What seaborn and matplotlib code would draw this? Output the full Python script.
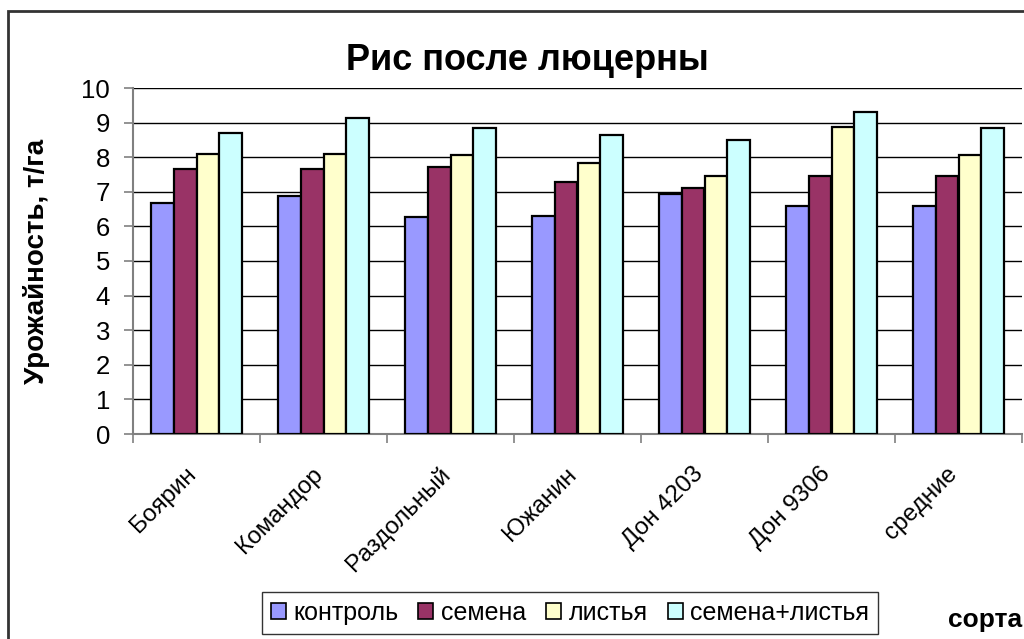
import matplotlib
matplotlib.use("Agg")
import matplotlib.pyplot as plt
import matplotlib.transforms as mtransforms
from matplotlib.patches import Rectangle
from matplotlib.ticker import FixedLocator
import numpy as np
import pandas as pd
import seaborn as sns

# ── Data ─────────────────────────────────────────────────────────
sorts = ["Боярин", "Командор", "Раздольный", "Южанин", "Дон 4203", "Дон 9306", "средние"]
treatments = ["контроль", "семена", "листья", "семена+листья"]
kontrol = [6.68, 6.88, 6.27, 6.30, 6.94, 6.59, 6.59]
semena = [7.66, 7.66, 7.72, 7.27, 7.10, 7.47, 7.47]
listya = [8.10, 8.10, 8.05, 7.82, 7.47, 8.88, 8.05]
semena_listya = [8.70, 9.13, 8.84, 8.64, 8.49, 9.31, 8.84]
colors = ["#9999FF", "#993366", "#FFFFCC", "#CCFFFF"]

df = pd.DataFrame({
    "сорт": sorts * 4,
    "вариант": np.repeat(treatments, len(sorts)),
    "урожай": kontrol + semena + listya + semena_listya,
})

sns.set_style("white")
plt.rcParams["font.family"] = ["Liberation Sans", "DejaVu Sans"]
plt.rcParams["text.color"] = "black"
plt.rcParams["axes.labelcolor"] = "black"

fig = plt.figure(figsize=(10.24, 6.39), dpi=100)
ax = fig.add_axes([133 / 1024, 1 - 434 / 639, (1022 - 133) / 1024, (434 - 88) / 639])

sns.barplot(
    data=df, x="сорт", y="урожай", hue="вариант",
    palette=colors, saturation=1, width=0.724, gap=0,
    edgecolor="black", linewidth=1.6, ax=ax, legend=False, zorder=3,
)

# ── Axes styling ─────────────────────────────────────────────────
ax.set_ylim(0, 10)
ax.set_xlim(-0.5, len(sorts) - 0.5)
ax.set_yticks(range(0, 11))
ax.yaxis.grid(True, color="black", linewidth=1.0, zorder=0)
ax.set_axisbelow(True)
for s in ["top", "right"]:
    ax.spines[s].set_visible(False)
for s in ["left", "bottom"]:
    ax.spines[s].set_color("#808080")
    ax.spines[s].set_linewidth(1.5)

ax.tick_params(axis="y", which="major", length=6.5, width=1.2, color="#808080",
               labelcolor="black", labelsize=18.5, pad=10, left=True)
ax.set_xticks(range(len(sorts)))
ax.set_xticklabels(sorts, rotation=45, ha="right", rotation_mode="anchor", fontsize=17.5)
ax.tick_params(axis="x", which="major", length=0, pad=21, labelcolor="black")
shift = mtransforms.ScaledTranslation(-12 / 100, 0, fig.dpi_scale_trans)
for lbl in ax.get_xticklabels():
    lbl.set_transform(lbl.get_transform() + shift)
ax.xaxis.set_minor_locator(FixedLocator(np.arange(-0.5, len(sorts), 1.0)))
ax.tick_params(axis="x", which="minor", length=6.5, width=1.2, color="#808080", bottom=True)

ax.set_xlabel("")
ax.set_ylabel("Урожайность, т/га", fontsize=20, fontweight="bold")
ax.yaxis.set_label_coords((50 - 133) / 889, 0.5)

fig.text(527 / 1024, 1 - 60 / 639, "Рис после люцерны", ha="center", va="center",
         fontsize=26, fontweight="bold")
fig.text(1022 / 1024, 1 - 620 / 639, "сорта", ha="right", va="center",
         fontsize=19, fontweight="bold")

# ── Legend ───────────────────────────────────────────────────────
handles = [Rectangle((0, 0), 1, 1, facecolor=c, edgecolor="black", linewidth=1.2)
           for c in colors]
leg = fig.legend(handles, treatments, loc="center", bbox_to_anchor=(570 / 1024, 1 - 613 / 639),
                 ncol=4, frameon=True, fancybox=False, shadow=False, fontsize=18,
                 handlelength=0.6, handleheight=0.6, handletextpad=0.3, columnspacing=0.8,
                 borderpad=0.35, edgecolor="black")
leg.get_frame().set_linewidth(1.0)

# ── Outer chart frame ────────────────────────────────────────────
fig.patches.append(Rectangle((8 / 1024, -0.1), 1.2, 1.1 - 11 / 639,
                             transform=fig.transFigure, fill=False,
                             edgecolor="#333333", linewidth=2, zorder=0))

plt.savefig("out.png", dpi=100)
